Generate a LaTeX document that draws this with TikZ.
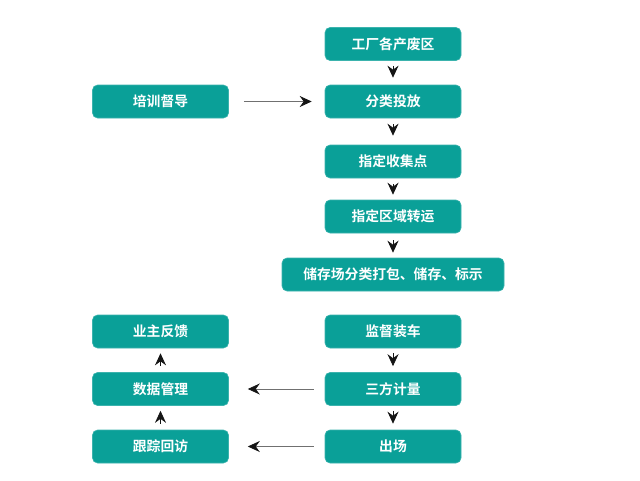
\documentclass[tikz,border=0pt]{standalone}
\usepackage{fontspec}
\setmainfont{Noto Sans CJK SC}[BoldFont={Noto Sans CJK SC Bold}]
\usetikzlibrary{arrows.meta}
\definecolor{teal1}{HTML}{0AA098}
\definecolor{headc}{HTML}{151515}
\definecolor{linec}{HTML}{707070}
\tikzset{
  box/.style={draw=teal1!80!white, line width=0.6pt, fill=teal1, rounded corners=5pt,
    minimum width=136pt, minimum height=33pt, inner sep=0pt,
    text=white, font=\fontsize{13.8pt}{15pt}\selectfont\bfseries},
  vhead/.style={draw=headc, line width=0.8pt, -{Stealth[length=12pt,width=11pt,inset=4pt]}},
  harrow/.style={draw=linec, line width=0.8pt, -{Stealth[length=12pt,width=11pt,inset=4pt,color=headc]}}
}
\begin{document}
\begin{tikzpicture}[x=1pt,y=-1pt]
\useasboundingbox (0,0) rectangle (640,480);
\node[box] (b1) at (393,44) {工厂各产废区};
\node[box] (b2) at (393,101.5) {分类投放};
\node[box] (b3) at (393,161.5) {指定收集点};
\node[box] (b4) at (393,216.5) {指定区域转运};
\node[box, minimum width=222pt] (b5) at (393,274.5) {储存场分类打包、储存、标示};
\node[box] (b6) at (393,331.5) {监督装车};
\node[box] (b7) at (393,389) {三方计量};
\node[box] (b8) at (393,446.5) {出场};
\node[box] (l0) at (160.5,101.5) {培训督导};
\node[box] (l1) at (160.5,331.5) {业主反馈};
\node[box] (l2) at (160.5,389) {数据管理};
\node[box] (l3) at (160.5,446.5) {跟踪回访};
\draw[vhead, shorten <=5pt, shorten >=7pt] (b1) -- (b2);
\draw[vhead, shorten <=6pt, shorten >=9pt] (b2) -- (b3);
\draw[vhead, shorten <=6pt, shorten >=5pt] (b3) -- (b4);
\draw[vhead, shorten <=7pt, shorten >=5pt] (b4) -- (b5);
\draw[vhead, shorten <=5pt, shorten >=6pt] (b6) -- (b7);
\draw[vhead, shorten <=5pt, shorten >=6pt] (b7) -- (b8);
\draw[vhead, shorten <=6pt, shorten >=5pt] (l3) -- (l2);
\draw[vhead, shorten <=6pt, shorten >=5pt] (l2) -- (l1);
\draw[harrow, shorten <=15pt, shorten >=13pt] (l0) -- (b2);
\draw[harrow, shorten <=11pt, shorten >=19pt] (b7) -- (l2);
\draw[harrow, shorten <=11pt, shorten >=19pt] (b8) -- (l3);
\end{tikzpicture}
\end{document}
